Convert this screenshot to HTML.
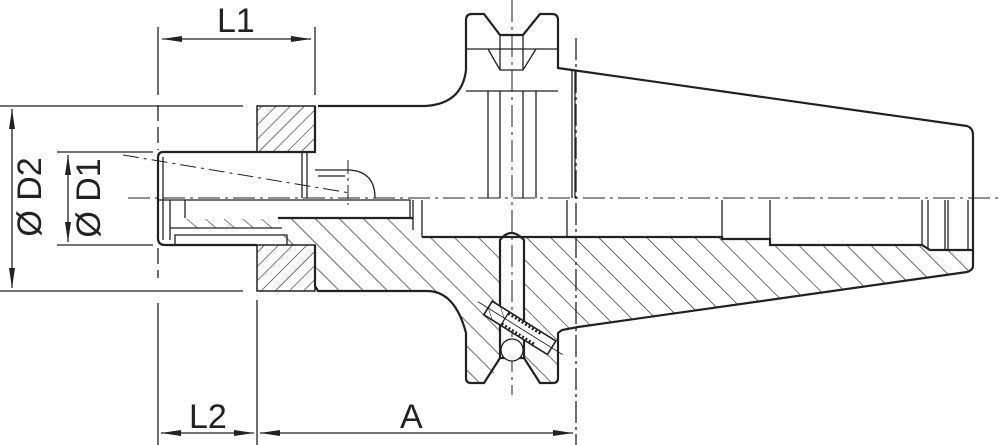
<!DOCTYPE html>
<html><head><meta charset="utf-8"><style>
html,body{margin:0;padding:0;background:#fff;}
svg{display:block;}
text{font-family:"Liberation Sans",sans-serif;font-size:34px;fill:#222;}
</style></head><body>
<svg width="1000" height="445" viewBox="0 0 1000 445" xmlns="http://www.w3.org/2000/svg">
<defs>
<pattern id="hb" patternUnits="userSpaceOnUse" width="17" height="17" patternTransform="rotate(-45)">
<line x1="0" y1="0" x2="0" y2="17" stroke="#222" stroke-width="1.3"/></pattern>
<pattern id="hf" patternUnits="userSpaceOnUse" width="10" height="10" patternTransform="rotate(45)">
<line x1="0" y1="0" x2="0" y2="10" stroke="#222" stroke-width="1.2"/></pattern>
<pattern id="hs" patternUnits="userSpaceOnUse" width="12" height="12" patternTransform="rotate(-50)">
<line x1="0" y1="0" x2="0" y2="12" stroke="#222" stroke-width="1.1"/></pattern>
<marker id="ar" viewBox="0 0 20 8" refX="20" refY="4" markerWidth="20" markerHeight="8" orient="auto-start-reverse" markerUnits="userSpaceOnUse">
<path d="M0,1 L20,4 L0,7 Z" fill="#222"/></marker>
</defs>
<g fill="none" stroke="#222" stroke-width="1.3">
<line x1="158" y1="27" x2="158" y2="95"/>
<line x1="158" y1="105" x2="158" y2="150" stroke-dasharray="16,6"/>
<line x1="158" y1="248" x2="158" y2="278" stroke-dasharray="16,6"/>
<line x1="158" y1="303" x2="158" y2="445"/>
<line x1="315" y1="27" x2="315" y2="95"/>
<line x1="257" y1="300" x2="257" y2="445"/>
<line x1="576" y1="38" x2="576" y2="445" stroke-dasharray="22,4,3,4"/>
<line x1="162" y1="39" x2="311" y2="39" marker-start="url(#ar)" marker-end="url(#ar)"/>
<line x1="161" y1="433" x2="254" y2="433" marker-start="url(#ar)" marker-end="url(#ar)"/>
<line x1="260" y1="433" x2="573" y2="433" marker-start="url(#ar)" marker-end="url(#ar)"/>
<line x1="0" y1="106" x2="243" y2="106"/>
<line x1="0" y1="291" x2="243" y2="291"/>
<line x1="57" y1="152" x2="153" y2="152"/>
<line x1="57" y1="245" x2="153" y2="245"/>
<line x1="12" y1="109" x2="12" y2="288" marker-start="url(#ar)" marker-end="url(#ar)"/>
<line x1="68" y1="155" x2="68" y2="242" marker-start="url(#ar)" marker-end="url(#ar)"/>

<rect x="257" y="106" width="58" height="46" fill="url(#hf)"/>
<rect x="257" y="245" width="58" height="46" fill="url(#hf)"/>
<path d="M278,218 L413,218 L413,230 L422,237 L722,237 L722,239 L770,239 L770,245 L922,245 L930,250 L973,250 L973,266 L967,272 L578,327 L562,330 L558,333 L558,378 L553,383 L535,383 L524,358 L524,240 Q511,226 500,240 L500,358 L490,383 L470,383 L466,378 L466,333 Q455,291 427,291 L318,291 L315,245 L287,245 Z" fill="url(#hb)" stroke="none"/>
<path d="M185,219 L275,219 L280,228 L180,228 Z" fill="url(#hs)" stroke="none"/>
<rect x="257" y="106" width="58" height="46"/>
<rect x="257" y="245" width="58" height="46"/>

<g stroke-width="2.2">
<path d="M318,106 L425,106 Q462,104 466,70 L466,20 Q466,14 472,14 L484,14 L500,35 L523,35 L540,14 L552,14 Q558,14 558,20 L558,68 L572,70 L967,126 Q973,128 973,135 L973,266 Q973,270 967,272 L578,327 L562,330 L558,333 L558,378 Q558,383 553,383 L540,383 L524,358 L500,358 L484,383 L471,383 Q466,383 466,378 L466,333 Q455,291 427,291 L318,291 L315,286 L315,245"/>
<path d="M315,106 L315,152 L163,152 Q158,152 158,158 L158,238 Q158,245 165,245 L257,245"/>
<path d="M278,218 L413,218"/>
<path d="M422,237 L722,237 L722,239 L770,239 L770,245 L922,245 L930,250 L973,250"/>
<path d="M500,358 L500,240 Q511,226 524,240 L524,358"/>
</g>
<line x1="163" y1="157" x2="163" y2="240"/>
<line x1="302" y1="152" x2="302" y2="198"/>
<line x1="307" y1="152" x2="307" y2="198"/>
<path d="M315,170 L350,170 Q375,172 375,198"/>
<line x1="318" y1="176" x2="345" y2="176"/>
<path d="M158,200 L410,200 L410,217"/>
<line x1="185" y1="200" x2="185" y2="218"/>
<line x1="170" y1="200" x2="170" y2="240"/>
<path d="M170,228 L282,228"/>
<path d="M175,245 L175,235 L287,235 L287,245"/>
<line x1="413" y1="200" x2="413" y2="230"/>
<line x1="422" y1="200" x2="422" y2="237"/>
<line x1="466" y1="49" x2="558" y2="49"/>
<line x1="466" y1="91" x2="558" y2="91"/>
<path d="M488,49 L500,70 L523,70 L536,49"/>
<line x1="500" y1="35" x2="500" y2="70"/>
<line x1="523" y1="35" x2="523" y2="70"/>
<line x1="488" y1="91" x2="488" y2="198"/>
<line x1="500" y1="91" x2="500" y2="198"/>
<line x1="523" y1="91" x2="523" y2="198"/>
<line x1="536" y1="91" x2="536" y2="198"/>
<line x1="572" y1="70" x2="572" y2="198"/>
<line x1="567" y1="200" x2="567" y2="237"/>
<line x1="722" y1="200" x2="722" y2="237"/>
<line x1="770" y1="200" x2="770" y2="239"/>
<line x1="922" y1="200" x2="922" y2="245"/>
<line x1="928" y1="200" x2="928" y2="249"/>
<line x1="945" y1="200" x2="945" y2="250"/>
<line x1="948" y1="200" x2="948" y2="250"/>
<line x1="968" y1="200" x2="968" y2="250"/>
<line x1="575" y1="70" x2="575" y2="198"/>
<line x1="128" y1="198" x2="1000" y2="198" stroke-dasharray="22,5,3,5" stroke-width="1"/>
<line x1="123" y1="155" x2="350" y2="193" stroke-dasharray="16,5,3,5" stroke-width="1"/>
<line x1="348" y1="160" x2="348" y2="205" stroke-dasharray="14,4,3,4" stroke-width="1"/>
<line x1="512" y1="0" x2="512" y2="395" stroke-dasharray="22,5,3,5" stroke-width="1"/>
<circle cx="512" cy="350" r="11" fill="#fff"/>
<g transform="translate(488,308) rotate(32)">
<rect x="0" y="-8" width="75" height="16" fill="#fff" stroke-width="1.6"/>
<rect x="0" y="-8" width="20" height="16" fill="url(#hs)"/>
<line x1="20" y1="-6" x2="60" y2="-6" stroke-dasharray="2,2" stroke-width="2.5"/>
<line x1="20" y1="6" x2="60" y2="6" stroke-dasharray="2,2" stroke-width="2.5"/>
<line x1="-12" y1="0" x2="88" y2="0" stroke-width="0.8"/>
</g>
</g>
<text x="217" y="32">L1</text>
<text x="189" y="428">L2</text>
<text x="400" y="428">A</text>
<text transform="translate(41,197) rotate(-90)" text-anchor="middle">Ø D2</text>
<text transform="translate(100,198) rotate(-90)" text-anchor="middle">Ø D1</text>
</svg>
</body></html>
